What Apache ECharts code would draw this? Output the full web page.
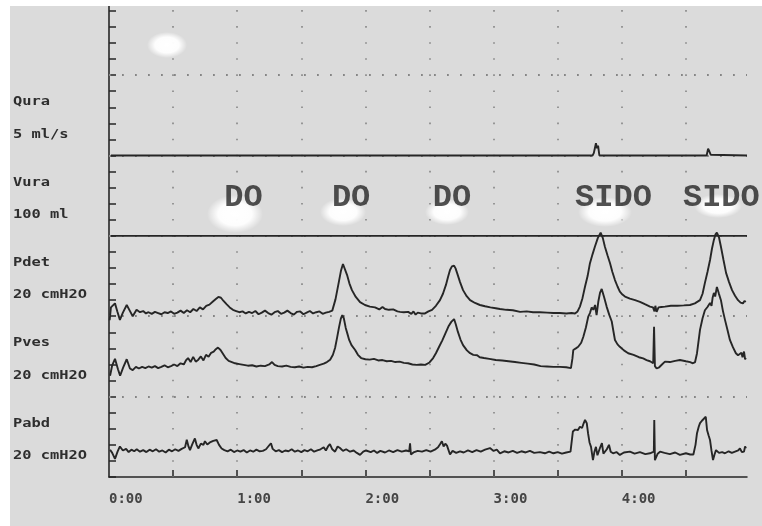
<!DOCTYPE html>
<html>
<head>
<meta charset="utf-8">
<script src="https://cdn.jsdelivr.net/npm/echarts@6/dist/echarts.min.js"></script>
<style>
  html, body { margin: 0; padding: 0; background: #ffffff; }
  #chart { width: 762px; height: 526px; }
</style>
</head>
<body>
<div id="chart"></div>
<script>
// ---- time axis (seconds) ----
const timeEnd = 298.6;
const timeTicks = [30, 60, 90, 120, 150, 180, 210, 240, 270];
const timeLabels = [0, 60, 120, 180, 240];

// ---- vertical "division" scale shared by all channels ----
const divisionMax = 29.3;
const divisionTicks = [0,1,2,3,4,5,6,7,8,9,10,11,12,13,14,15,16,17,18,19,20,21,22,23,24,25,26,27,28,29];
const laneLines = [5, 10, 15, 20, 25];

// channel name, scale caption, and the division where its lane starts
const channelNames = ['Qura', 'Vura', 'Pdet', 'Pves', 'Pabd'];
const channelScales = ['5 ml/s', '100 ml', '20 cmH2O', '20 cmH2O', '20 cmH2O'];
const channelLaneTops = [25, 20, 15, 10, 5];

// ---- traces: [time s, value] ----
const qura = [[0.9,0],[226.3,0],[226.9,0.15],[227.4,0.45],[227.9,0.76],[228.4,0.45],[228.9,0.62],[229.5,0],[279.7,0],[280.4,0.42],[281.0,0.25],[281.6,0.05],[298.6,0]];

const vura = [[0.9,0],[298.6,0]];

const pdet = [[0.3,-1.0],[0.9,2.2],[1.8,2.4],[2.8,3.2],[3.9,1.2],[5.1,-0.9],[6.5,0.9],[8.3,2.8],[9.7,1.4],[11.1,0.0],[12.9,1.6],[14.5,1.0],[16,1.3],[17.3,0.7],[18.5,1.0],[20,0.6],[21.5,1.1],[23,0.8],[24.5,0.5],[26,1.0],[27.5,0.8],[29,1.2],[30.5,0.6],[32,0.9],[33.5,1.4],[35,0.8],[36.5,1.5],[38,1.0],[39.5,1.8],[41,1.3],[42.5,2.2],[44,1.7],[45.5,2.6],[47,2.9],[48.5,3.6],[50,4.3],[51.2,4.8],[52.4,4.6],[53.6,3.8],[55,3.0],[56.5,2.2],[58,1.6],[59.5,1.3],[61,1.0],[62.5,1.2],[64,0.7],[65.5,1.1],[67,0.8],[68.5,1.3],[70,0.5],[71.5,0.9],[73,1.4],[74.5,0.8],[76,0.4],[77.5,1.0],[79,1.3],[80.5,0.6],[82,0.9],[83.5,1.4],[85,0.8],[86.5,0.4],[88,1.1],[89.5,1.2],[91,0.5],[92.5,0.9],[94,1.3],[95.5,0.7],[97,1.0],[98.5,1.2],[100,0.6],[101.5,0.9],[103,1.1],[104.5,1.4],[106,4.2],[107.6,8.6],[108.6,11.4],[109.5,13.0],[110.2,13.2],[111.4,10.3],[112.5,8.2],[113.7,6.5],[115.5,4.8],[117.5,3.5],[119.8,2.8],[122.1,2.4],[124.5,2.2],[126.5,1.7],[128,2.3],[129.2,1.8],[131,1.6],[133,1.7],[135,1.2],[136.2,1.1],[138,1.0],[140,1.1],[141.5,0.6],[142.5,1.2],[143.5,0.4],[144.5,0.9],[146,0.7],[147.9,0.7],[149.5,1.2],[151.2,1.6],[153,2.6],[154.9,4.0],[156.3,5.6],[157.7,7.8],[158.7,9.8],[159.6,11.5],[160.5,12.4],[161.5,12.6],[162.2,11.9],[162.9,10.8],[164.3,8.5],[165.7,6.5],[167.4,5.0],[169,4.0],[171.3,3.3],[173.6,2.8],[176,2.5],[178.5,2.2],[181,2.0],[183,1.8],[186,1.6],[189,1.5],[192.4,1.1],[195.5,1.2],[198.5,1.0],[201.7,1.0],[205,0.9],[208,0.8],[211,0.8],[214,0.7],[216.5,0.8],[218.1,0.7],[219.3,1.2],[220.4,2.4],[221.6,4.5],[222.8,7.4],[224,10.0],[225.1,13.2],[226.3,15.4],[227.4,17.3],[228.8,19.5],[230.1,20.8],[231.1,19.5],[232.1,17.3],[233.3,15.2],[234.5,13.2],[235.6,11.0],[236.8,9.0],[238,7.4],[239.1,6.1],[240.3,5.4],[241.5,4.9],[243.8,4.4],[246.2,4.0],[248.5,3.6],[250.8,3.0],[253.2,2.4],[254.6,2.2],[255.3,1.2],[255.7,2.6],[256.3,1.1],[257.2,2.2],[258.5,2.3],[260.2,2.4],[263,2.6],[266,2.6],[269,2.7],[271.9,2.8],[274.2,3.2],[276.6,4.0],[277.8,5.6],[278.9,8.3],[280.1,11.0],[281.3,14.0],[282.2,16.8],[283.1,19.0],[283.8,20.3],[284.5,20.8],[285.5,19.6],[286.4,17.3],[287.6,14.0],[288.8,10.8],[290.2,8.5],[291.6,6.5],[293,5.1],[294.4,4.0],[295.6,3.4],[296.7,3.2],[297.4,3.8],[298.1,3.6]];

const pves = [[0.5,5.2],[1.5,7.8],[2.8,9.4],[4.2,6.8],[5.2,5.2],[6.6,7.2],[8.3,9.3],[9.8,7.0],[11.1,6.6],[12.6,7.4],[14,7.0],[15.5,7.4],[17,7.1],[18.5,7.5],[20,7.2],[21.5,7.6],[23,7.1],[24.5,7.4],[26,7.8],[27.5,7.3],[29,7.6],[30.5,8.0],[32,7.6],[33.5,8.3],[35,8.0],[36,9.0],[37,9.6],[38.2,8.6],[39.4,9.9],[40.6,8.7],[41.8,9.2],[43,10.0],[44.2,9.0],[45.4,10.4],[46.6,9.9],[47.8,10.9],[49,11.2],[50,11.8],[51,12.2],[52.2,11.6],[53.4,10.6],[54.6,9.6],[56,8.9],[57.5,8.6],[59,8.3],[61,8.1],[63,7.9],[65,7.7],[67,7.8],[69,7.5],[71,7.7],[73,7.6],[75,8.0],[76.3,8.6],[77.5,7.9],[79,7.6],[81,7.5],[83,7.7],[85,7.4],[87,7.3],[89,7.5],[91,7.2],[93,7.4],[95,7.3],[97,7.6],[98.7,7.9],[100.5,8.2],[102,8.6],[103.5,9.2],[104.8,10.4],[105.8,12.1],[106.8,14.8],[107.6,17.1],[108.5,19.4],[109.2,20.3],[109.9,19.5],[110.8,17.1],[111.5,15.8],[112.4,14.1],[113.5,12.8],[115.2,11.6],[116.5,10.4],[118,9.6],[120,9.3],[122,9.2],[124,9.4],[126,9.0],[128,9.1],[130,8.8],[132,8.9],[134,8.6],[136,8.7],[138,8.4],[140,8.3],[142,8.0],[144,7.9],[146,8.0],[148,7.9],[150,8.5],[151.7,9.6],[153,10.8],[154.5,12.4],[156,14.0],[157.5,15.8],[159,17.6],[160.2,18.6],[161.5,19.3],[162.3,18.0],[163.3,16.1],[164.5,14.2],[165.7,12.8],[167.5,11.5],[169,10.8],[170.5,10.4],[172.3,10.3],[173.5,9.8],[175.5,9.6],[178,9.4],[181,9.1],[184,9.0],[187,8.8],[190,8.6],[193,8.4],[196,8.2],[199,8.0],[202,7.6],[205,7.5],[208,7.4],[211,7.4],[214,7.3],[216.2,7.1],[216.9,9.5],[217.3,11.6],[218.5,12.0],[219.6,12.4],[221,13.4],[222,14.9],[223.2,17.2],[224.3,19.9],[225.1,20.8],[225.9,22.2],[226.7,21.6],[227.5,22.8],[228.2,20.3],[229,23.6],[229.8,25.8],[230.6,26.8],[231.7,24.8],[232.9,22.4],[234.1,20.4],[235.3,18.7],[236.1,16.2],[236.8,14.1],[238,13.0],[239.1,12.4],[241,11.5],[243,10.8],[245.5,10.4],[248,9.8],[250,9.5],[251.6,9.1],[253.2,8.8],[254.7,8.3],[255.1,17.4],[255.5,7.6],[256.3,7.0],[257.5,7.3],[258.8,8.0],[260.2,8.7],[262.5,8.6],[265,8.9],[267.2,9.1],[270,8.8],[272,8.6],[273.3,8.3],[274.3,8.6],[275.2,10.8],[276.6,16.6],[277.8,19.5],[278.9,21.5],[280.1,22.3],[281.3,23.3],[282,22.6],[282.5,24.6],[283.1,25.8],[283.7,24.9],[284.5,27.3],[285.4,25.7],[286.4,24.0],[287.3,21.4],[288.3,19.1],[289.5,16.5],[290.6,14.1],[292,12.3],[293.4,10.8],[294.4,10.3],[295.3,9.9],[296,10.9],[296.5,9.8],[297.2,11.2],[297.7,9.3],[298.1,9.6]];

const pabd = [[0.5,6.8],[1.5,6.0],[2.8,4.5],[4.0,6.3],[5.1,7.6],[6.5,6.6],[8,7.0],[9.2,6.2],[10.5,6.8],[11.8,6.4],[13,6.9],[14.5,6.3],[16,6.7],[17.5,6.2],[19,6.8],[20.5,6.4],[22,6.9],[23.5,6.3],[25,6.6],[26.5,6.1],[28,6.8],[29.5,6.4],[31,6.9],[32.5,6.5],[34,7.0],[35.6,7.4],[36.4,9.3],[37.2,7.6],[37.9,6.7],[39,8.2],[40.2,9.6],[41,8.0],[41.8,7.1],[43,8.3],[44.2,8.0],[44.9,8.9],[46,8.1],[47.2,8.6],[48.8,9.0],[49.6,8.7],[50.4,9.2],[51.5,8.0],[52.7,7.1],[54,6.7],[55.5,6.4],[57,6.8],[58.5,6.2],[60,6.6],[61.5,6.3],[63,6.7],[64.5,6.1],[66,6.6],[67.5,6.3],[69,6.8],[70.5,6.4],[72,6.5],[73.5,6.9],[75,7.9],[75.8,8.4],[76.6,7.0],[78,6.4],[79.5,6.7],[81,6.2],[82.5,6.6],[84,6.4],[85.5,6.9],[87,6.3],[88.5,6.6],[90,6.2],[91.5,6.7],[93,6.4],[94.5,6.9],[96,6.3],[97.5,6.6],[99,6.9],[100.5,7.4],[101.5,6.6],[102.5,7.6],[103.4,8.2],[104.5,6.9],[105.8,6.3],[107,7.6],[108.1,7.2],[109.5,6.5],[111,6.9],[112.8,6.3],[114.5,6.6],[116,6.0],[117.5,5.5],[119,6.3],[120.3,6.6],[121.2,7.0],[122.5,6.2],[124,6.6],[125.5,6.0],[127,6.5],[129.2,6.1],[131,6.6],[133,6.2],[135,6.7],[137,6.3],[139,6.6],[140.5,6.4],[140.9,8.4],[141.3,5.6],[142.5,6.1],[144.5,6.5],[146.5,6.3],[148.5,6.7],[150.5,6.3],[152.5,6.8],[154,7.4],[155,8.2],[155.8,8.9],[156.6,7.6],[157.4,8.3],[158.2,7.8],[159.6,5.6],[160.8,6.5],[162.5,6.0],[164.3,6.4],[166,6.1],[168,6.6],[170,6.2],[172,6.7],[174,6.3],[176,6.8],[178.3,7.2],[180,6.5],[181.5,6.8],[183,5.9],[185,6.4],[187,6.1],[189,6.5],[191,6.0],[193,6.4],[195,6.1],[197,6.5],[199,6.0],[201.7,6.2],[204,5.9],[206,6.3],[208,5.9],[210,6.2],[212,5.8],[214,6.1],[216,6.3],[216.5,6.7],[217.1,11.3],[218.2,11.8],[219.5,11.7],[220.4,12.5],[221.4,12.2],[222.1,13.3],[222.8,14.2],[223.6,13.4],[224.2,10.9],[224.9,8.6],[225.6,7.5],[226.5,4.2],[227.2,6.3],[227.9,7.5],[228.6,5.4],[229.3,5.1],[229.9,7.4],[230.7,8.4],[231.4,5.8],[232.1,5.5],[233,6.9],[234,8.0],[234.8,6.3],[235.9,5.9],[237.5,6.2],[239.1,5.5],[241,6.1],[243.8,6.3],[246,5.8],[248.5,6.2],[251,5.7],[253.2,5.9],[255,6.3],[255.2,14.2],[255.5,4.2],[256.8,5.8],[257.9,6.3],[260,6.0],[262.5,5.7],[265,6.1],[267.2,5.5],[270,5.9],[272,5.6],[273.5,5.6],[274.5,8.0],[275.2,10.9],[276,12.5],[276.6,13.4],[277.5,14.0],[278.3,13.6],[279.3,15.0],[279.9,11.7],[280.6,10.4],[281.3,9.2],[282,6.5],[282.7,4.2],[283.4,5.6],[284.1,6.7],[285.5,6.0],[287,6.2],[288.3,5.9],[290,6.4],[291.5,6.0],[293,6.3],[294.5,6.6],[295.3,7.1],[296.2,6.2],[297.2,6.3],[297.7,7.6],[298.1,7.1]];

// detrusor overactivity events marked above the pressure traces
const eventNames = ['DO', 'DO', 'DO', 'SIDO', 'SIDO'];
const eventTimes = [62.9, 113.3, 160.5, 236.1, 286.6];
const eventLevel = 17.36;

// ---- styling ----
const INK = '#262626';
const DOT = '#858585';
const PAPER = '#dbdbdb';
const tickFont = 'DejaVu Sans Mono';

function fmtTime(v) {
  const m = Math.floor(v / 60);
  const s = Math.round(v % 60);
  return m + ':' + (s < 10 ? '0' : '') + s;
}

function trace(name, data, axis) {
  return {
    name: name, type: 'line', data: data,
    xAxisIndex: 0, yAxisIndex: axis,
    showSymbol: false, symbol: 'none', silent: true,
    lineStyle: { color: INK, width: 1.9 },
    z: 3, animation: false
  };
}

function softSpot(cx, cy, rx, ry) {
  return {
    type: 'circle', x: cx, y: cy, scaleX: rx / 10, scaleY: ry / 10,
    shape: { cx: 0, cy: 0, r: 10 }, silent: true, z: 5,
    style: {
      fill: {
        type: 'radial', x: 0.5, y: 0.5, r: 0.5,
        colorStops: [
          { offset: 0, color: 'rgba(255,255,255,1)' },
          { offset: 0.6, color: 'rgba(255,255,255,0.95)' },
          { offset: 1, color: 'rgba(255,255,255,0)' }
        ]
      }
    }
  };
}

const chart = echarts.init(document.getElementById('chart'), null, { renderer: 'canvas' });

const hiddenAxis = (min, max) => ({ type: 'value', show: false, min: min, max: max });

const option = {
  animation: false,
  backgroundColor: PAPER,
  grid: { left: 109, right: 15, top: 6, bottom: 49, containLabel: false, outerBoundsMode: 'none' },
  xAxis: {
    type: 'value', min: 0, max: timeEnd, interval: 30,
    axisLine: { show: true, onZero: false, lineStyle: { color: INK, width: 1.5 } },
    axisTick: { show: true, inside: true, length: 7, customValues: timeTicks, lineStyle: { color: INK, width: 1.5 } },
    axisLabel: {
      show: true, customValues: timeLabels, formatter: fmtTime, align: 'left', margin: 15,
      fontFamily: tickFont, fontWeight: 'bold', fontSize: 14, color: '#454545'
    },
    splitLine: { show: false }
  },
  yAxis: [
    {
      type: 'value', min: 0, max: divisionMax, interval: 1,
      axisLine: { show: true, lineStyle: { color: INK, width: 1.6 } },
      axisTick: { show: true, inside: true, length: 7, customValues: divisionTicks, lineStyle: { color: INK, width: 1.5 } },
      axisLabel: { show: false },
      splitLine: { show: false }
    },
    hiddenAxis(-20, -20 + divisionMax * 1),     // Qura, 1 ml/s per division
    hiddenAxis(-300, -300 + divisionMax * 20),  // Vura, 20 ml per division
    hiddenAxis(-40, -40 + divisionMax * 4),     // Pdet, 4 cmH2O per division
    hiddenAxis(-20, -20 + divisionMax * 4),     // Pves
    hiddenAxis(0, divisionMax * 4)              // Pabd
  ],
  series: [
    {
      name: 'grid dots', type: 'line', data: [], xAxisIndex: 0, yAxisIndex: 0,
      silent: true, z: 1,
      markLine: {
        silent: true, symbol: 'none', animation: false, z: 1,
        label: { show: false },
        emphasis: { disabled: true },
        data: timeTicks.map(t => ({
          xAxis: t,
          lineStyle: { color: DOT, width: 1.6, type: [1.6, 14.475], dashOffset: 0.8 }
        })).concat(laneLines.map(d => ({
          yAxis: d,
          lineStyle: { color: DOT, width: 1.8, type: [1.8, 11.2], dashOffset: 0 }
        })))
      }
    },
    trace('Qura', qura, 1),
    trace('Vura', vura, 2),
    trace('Pdet', pdet, 3),
    trace('Pves', pves, 4),
    trace('Pabd', pabd, 5),
    {
      name: 'events', type: 'scatter', xAxisIndex: 0, yAxisIndex: 0,
      symbolSize: 1, itemStyle: { color: 'rgba(0,0,0,0)' }, silent: true, z: 10,
      data: eventNames.map((n, i) => ({ name: n, value: [eventTimes[i], eventLevel] })),
      label: {
        show: true, position: 'inside', formatter: '{b}',
        fontFamily: 'Liberation Mono', fontWeight: 'bold', fontSize: 32, color: '#262626'
      }
    }
  ],
  graphic: [
    { type: 'rect', shape: { x: 0, y: 0, width: 762, height: 6 }, style: { fill: '#ffffff' }, silent: true, z: 20 },
    { type: 'rect', shape: { x: 0, y: 0, width: 10, height: 526 }, style: { fill: '#ffffff' }, silent: true, z: 20 },
    softSpot(167, 45, 20, 13),
    softSpot(235, 214, 28, 19),
    softSpot(343, 212, 23, 14),
    softSpot(447, 212, 22, 13),
    softSpot(605, 212, 27, 15),
    softSpot(718, 206, 24, 12)
  ]
};

chart.setOption(option);

// channel captions placed within their lanes on the division scale
const captions = [];
channelNames.forEach((name, i) => {
  const top = chart.convertToPixel({ yAxisIndex: 0 }, channelLaneTops[i]);
  [[name, top + 27], [channelScales[i], top + 59.5]].forEach(([txt, y]) => {
    captions.push({
      type: 'text', x: 13, y: y, scaleX: 1.28, silent: true, z: 6,
      style: {
        text: txt, fill: '#2e2e2e', verticalAlign: 'middle',
        font: 'bold 12px "DejaVu Sans Mono"'
      }
    });
  });
});
chart.setOption({ graphic: option.graphic.concat(captions) });
</script>
</body>
</html>
